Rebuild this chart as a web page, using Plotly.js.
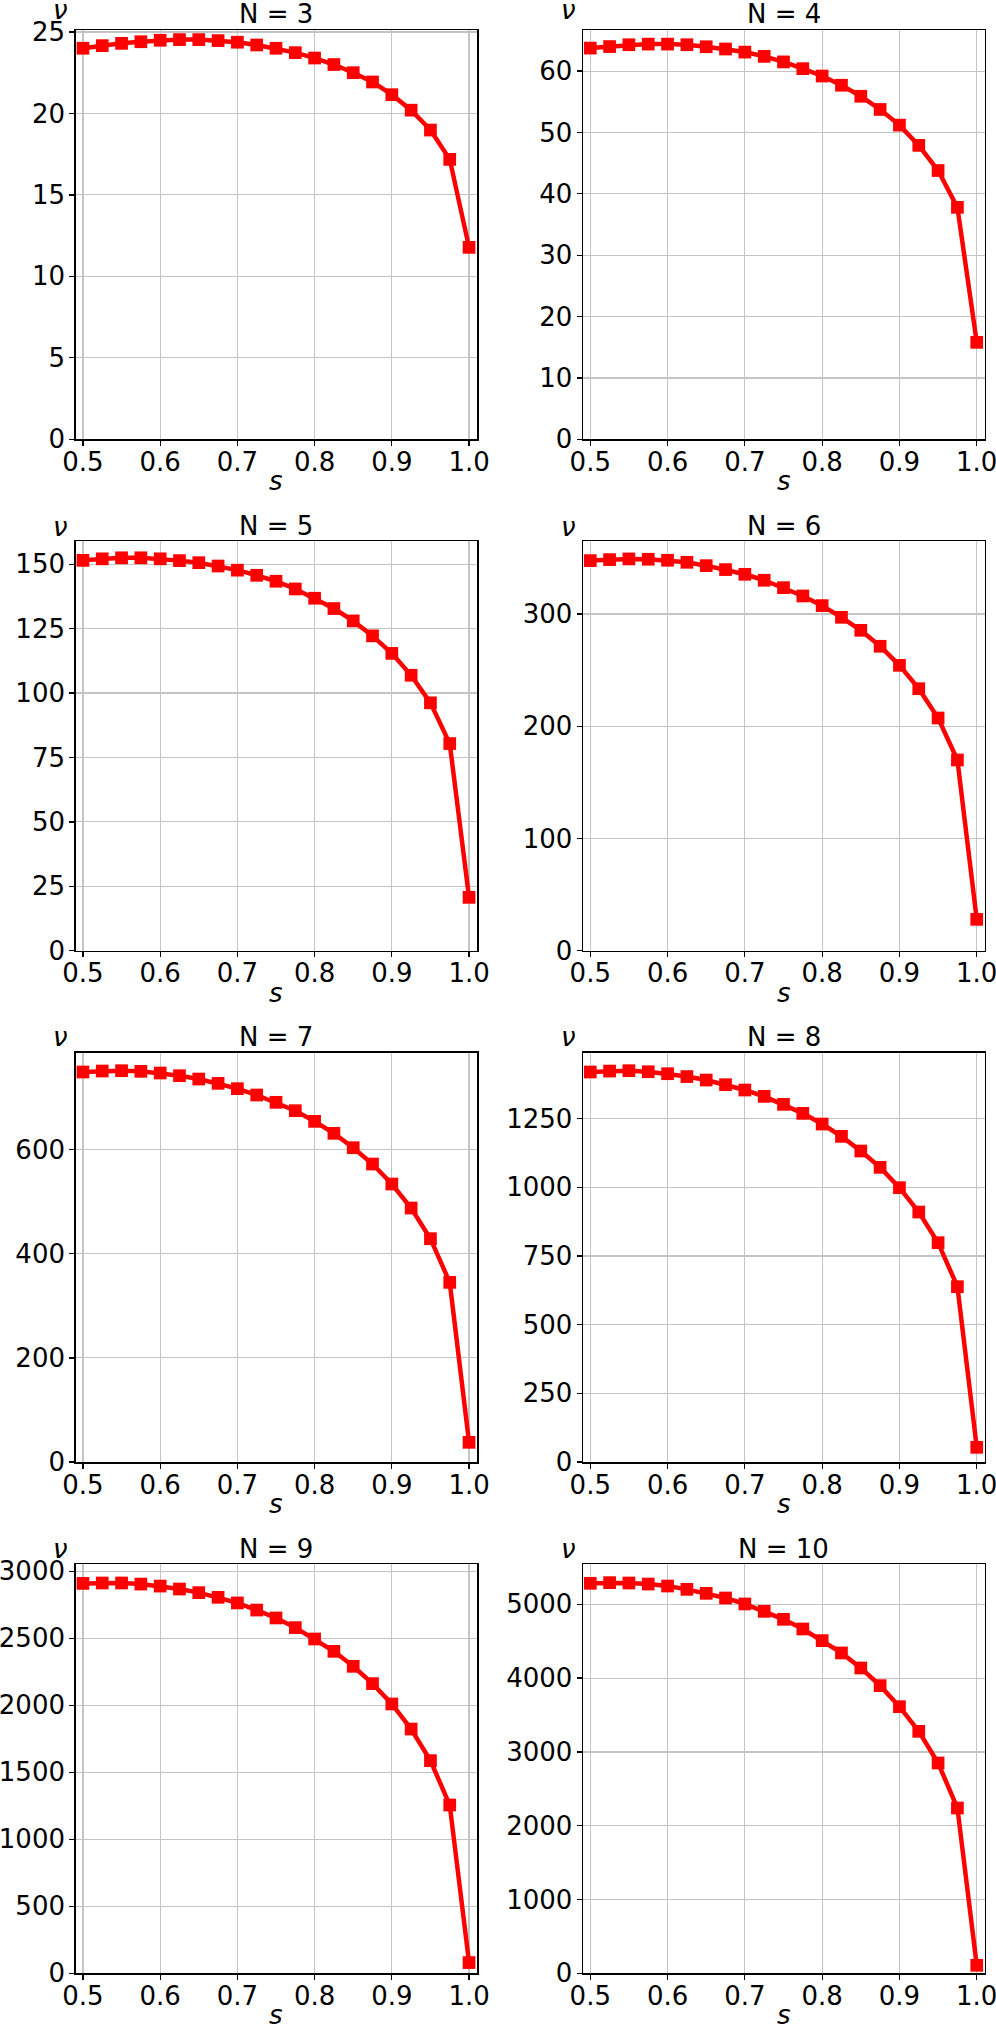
<!DOCTYPE html>
<html>
<head>
<meta charset="utf-8">
<script src="https://cdn.plot.ly/plotly-3.0.1.min.js"></script>
<style>
  html, body { margin: 0; padding: 0; background: #fff; }
  #chart { width: 996px; height: 2024px; }
</style>
</head>
<body>
<div id="chart"></div>
<script>
// s values shared by every panel
const sVals = [0.5, 0.525, 0.55, 0.575, 0.6, 0.625, 0.65, 0.675, 0.7, 0.725, 0.75,
               0.775, 0.8, 0.825, 0.85, 0.875, 0.9, 0.925, 0.95, 0.975, 1.0];

// nu(s) for each N
const nu3 = [24.0, 24.16, 24.3, 24.4, 24.49, 24.53, 24.53, 24.47, 24.37, 24.2, 24.0,
             23.73, 23.4, 23.0, 22.5, 21.93, 21.15, 20.2, 18.98, 17.18, 11.78];
const nu4 = [63.75, 64.0, 64.3, 64.4, 64.4, 64.3, 63.97, 63.6, 63.1, 62.4, 61.5,
             60.4, 59.2, 57.7, 55.9, 53.75, 51.2, 47.9, 43.8, 37.8, 15.8];
const nu5 = [151.5, 152.1, 152.5, 152.5, 152.1, 151.4, 150.6, 149.3, 147.7, 145.7, 143.4,
             140.4, 136.8, 132.8, 128.0, 122.2, 115.4, 106.9, 96.2, 80.4, 20.7];
const nu6 = [347.5, 348.4, 349.0, 348.7, 347.8, 346.0, 343.0, 339.5, 335.3, 330.0, 323.4,
             316.0, 307.4, 297.0, 285.4, 271.2, 254.2, 233.4, 207.3, 169.9, 27.9];
const nu7 = [749.2, 751.1, 751.7, 750.5, 747.3, 742.1, 735.7, 727.4, 717.2, 705.0, 691.0,
             674.9, 654.4, 631.4, 603.8, 572.4, 534.0, 487.9, 429.0, 345.1, 37.8];
const nu8 = [1420, 1423.5, 1424.8, 1421, 1413.8, 1403.4, 1390.8, 1373.8, 1354.4, 1331.3, 1302.2,
             1269.4, 1230.6, 1185.7, 1132.3, 1072.8, 998.8, 910.2, 798.5, 638.3, 53.4];
const nu9 = [2910, 2913, 2913, 2905, 2890, 2868, 2841, 2806, 2764, 2711, 2652,
             2580, 2495, 2403, 2291, 2162, 2010, 1823, 1587, 1256, 80];
const nu10 = [5285, 5294, 5289, 5275, 5248, 5203, 5149, 5086, 5005, 4905, 4797,
              4666, 4508, 4341, 4137, 3898, 3613, 3279, 2850, 2240, 108];

const nValues = [3, 4, 5, 6, 7, 8, 9, 10];
const nuSeries = [nu3, nu4, nu5, nu6, nu7, nu8, nu9, nu10];

// y axis tops and tick steps per panel
const yTops = [25.12, 66.7, 158.9, 364.7, 786.3, 1490.3, 3054.7, 5546.5];
const yDticks = [5, 10, 25, 100, 200, 250, 500, 1000];
const xTicks = [0.5, 0.6, 0.7, 0.8, 0.9, 1.0];

// page geometry in pixels
const W = 996, H = 2024;
const colLeft = [75.7, 583];
const colRight = [477, 984.7];
const rowTop = [30, 541.3, 1052.7, 1564];
const rowBottom = [439.3, 950.7, 1462, 1973.3];
const nuBaseline = [16, 533, 1043, 1555.3];

const FONT = 'DejaVu Sans';
const FS = 26;
const DESC = 11; // annotation box bottom below text baseline (empirical)

function px2x(p) { return p / W; }
function px2y(p) { return 1 - p / H; }

const traces = [];
const layout = {
    width: W,
    height: H,
    margin: { l: 0, r: 0, t: 0, b: 0 },
    paper_bgcolor: '#fff',
    plot_bgcolor: '#fff',
    showlegend: false,
    font: { family: FONT, size: FS, color: '#000' },
    annotations: []
};

nValues.forEach((n, i) => {
    const row = Math.floor(i / 2);
    const col = i % 2;
    const k = i === 0 ? '' : String(i + 1);

    traces.push({
        x: sVals,
        y: nuSeries[i],
        xaxis: 'x' + k,
        yaxis: 'y' + k,
        type: 'scatter',
        mode: 'lines+markers',
        line: { color: '#ff0000', width: 4.5 },
        marker: { symbol: 'square', size: 12.7, color: '#ff0000' },
        cliponaxis: false
    });

    const common = {
        showline: true,
        mirror: true,
        linecolor: '#000',
        linewidth: 1.5,
        ticks: 'outside',
        ticklen: 5,
        tickwidth: 1.3,
        tickcolor: '#000',
        showgrid: true,
        gridcolor: '#c4c4c4',
        gridwidth: 1.2,
        zeroline: false,
        ticklabeloverflow: 'allow',
        tickfont: { family: FONT, size: FS, color: '#000' }
    };

    layout['xaxis' + k] = Object.assign({}, common, {
        domain: [px2x(colLeft[col]), px2x(colRight[col])],
        anchor: 'y' + k,
        range: [0.4906, 1.0103],
        tickmode: 'array',
        tickvals: xTicks,
        ticktext: xTicks.map(v => v.toFixed(1)),
        ticklabelstandoff: -6
    });
    layout['yaxis' + k] = Object.assign({}, common, {
        domain: [px2y(rowBottom[row]), px2y(rowTop[row])],
        anchor: 'x' + k,
        range: [0, yTops[i]],
        tick0: 0,
        dtick: yDticks[i],
        ticklabelstandoff: -1
    });

    const cx = (colLeft[col] + colRight[col]) / 2;
    const txt = (text, xpx, basePx) => ({
        xref: 'paper', yref: 'paper',
        x: px2x(xpx), y: px2y(basePx + DESC),
        xanchor: 'center', yanchor: 'bottom',
        text: text,
        showarrow: false,
        font: { family: FONT, size: FS, color: '#000' }
    });
    layout.annotations.push(txt('N = ' + n, cx, rowTop[row] - 9.5));   // panel title
    layout.annotations.push(txt('<i>ν</i>', colLeft[col] - 15, nuBaseline[row])); // y label
    layout.annotations.push(txt('<i>s</i>', cx, rowBottom[row] + 48));  // x label
});

Plotly.newPlot('chart', traces, layout, { staticPlot: true, displayModeBar: false });
</script>
</body>
</html>
